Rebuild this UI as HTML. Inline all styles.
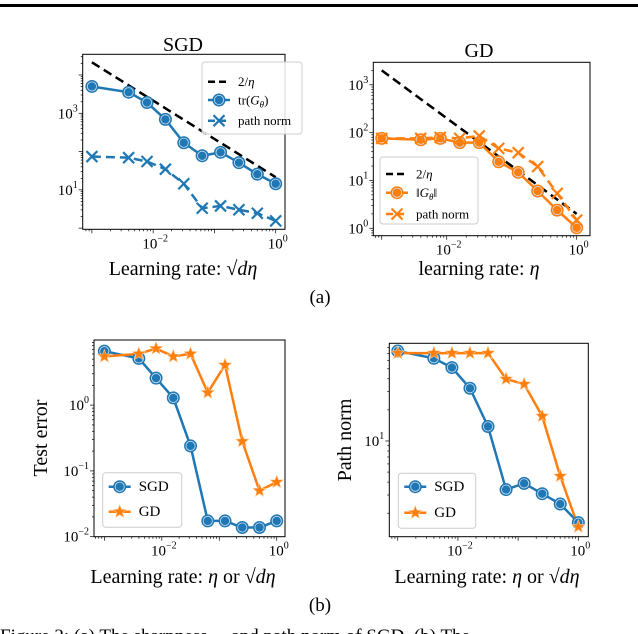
<!DOCTYPE html>
<html><head><meta charset="utf-8">
<style>
html,body{margin:0;padding:0;background:#fff;}
svg{display:block;font-family:"Liberation Serif",serif;}
</style></head>
<body>
<svg id="fig" width="638" height="634" viewBox="0 0 638 634" xmlns="http://www.w3.org/2000/svg">
<rect x="0" y="4" width="638" height="3" fill="#000"/>
<text x="320" y="303" font-size="19" text-anchor="middle">(a)</text>
<text x="320" y="611" font-size="19" text-anchor="middle">(b)</text>
<text x="0" y="642" font-size="19">Figure 2: (a) The sharpness ... and path norm of SGD. (b) The</text>
</svg>
<script>
// shared x data: log10 learning rate
const lrLog = [-3, -2.4, -2.1, -1.8, -1.5, -1.2, -0.9, -0.6, -0.3, 0];
// panel a1 (SGD)
const sgdTrG = [3.70, 3.55, 3.28, 2.84, 2.23, 1.89, 1.98, 1.71, 1.41, 1.16];
const sgdPathA = [1.87, 1.84, 1.74, 1.54, 1.16, 0.52, 0.58, 0.48, 0.39, 0.19];
const sgdRefConst = 1.33; // log10 of c in c/eta
// panel a2 (GD)
const gdG = [1.88, 1.85, 1.88, 1.79, 1.79, 1.39, 1.17, 0.78, 0.38, 0.01];
const gdPathA = [1.88, 1.88, 1.90, 1.88, 1.93, 1.67, 1.58, 1.29, 0.73, 0.17];
const gdRefConst = 0.301;
// panel b1 test error
const sgdTest = [0.82, 0.71, 0.41, 0.11, -0.62, -1.76, -1.76, -1.86, -1.86, -1.76];
const gdTest = [0.74, 0.78, 0.86, 0.74, 0.78, 0.19, 0.61, -0.55, -1.30, -1.17];
// panel b2 path norm
const sgdPathB = [1.87, 1.80, 1.71, 1.51, 1.14, 0.53, 0.59, 0.49, 0.39, 0.21];
const gdPathB = [1.85, 1.85, 1.85, 1.85, 1.85, 1.60, 1.55, 1.24, 0.66, 0.17];
const xTickLabels = ["-2", "0"];

const NS = "http://www.w3.org/2000/svg";
const svg = document.getElementById('fig');
const BLUE = "#1f77b4", ORANGE = "#ff7f0e";
function mk(tag, attrs, parent){const e=document.createElementNS(NS,tag);for(const k in attrs)e.setAttribute(k,attrs[k]);(parent||svg).appendChild(e);return e;}

function panel(p){
  const g = mk('g',{});
  
  
  const sx = v => p.l + (v - p.x0)/(p.x1 - p.x0)*(p.r - p.l);
  const sy = v => p.b - (v - p.y0)/(p.y1 - p.y0)*(p.b - p.t);
  const clipId = 'c'+p.name;
  const cp = mk('clipPath',{id:clipId},g); mk('rect',{x:p.l,y:p.t,width:p.r-p.l,height:p.b-p.t},cp);
  for(let d=Math.floor(p.y0); d<=Math.ceil(p.y1); d++){
    for(let m=1;m<10;m++){
      const v=d+Math.log10(m); if(v<p.y0||v>p.y1) continue;
      const y=sy(v); const len = m===1?4:2;
      const t=mk('line',{x1:p.l-len,x2:p.l,y1:y,y2:y,stroke:'#000','stroke-width':0.7},g);
      
      
    }
  }
  for(let d=Math.floor(p.x0); d<=Math.ceil(p.x1); d++){
    for(let m=1;m<10;m++){
      const v=d+Math.log10(m); if(v<p.x0||v>p.x1) continue;
      const x=sx(v); const len = m===1?4:2;
      const t=mk('line',{x1:x,x2:x,y1:p.b,y2:p.b+len,stroke:'#000','stroke-width':0.7},g);
      
      
    }
  }
  xTickLabels.forEach(s=>{
    const v=+s; const t=mk('text',{x:sx(v)+2,y:p.b+19,'font-size':15,'text-anchor':'middle'},g);
    
    
    t.innerHTML='10<tspan dy="-7" font-size="10">'+(v<0?'\u2212'+(-v):v)+'</tspan>';
  });
  p.yTicks.forEach(v=>{
    const t=mk('text',{x:p.l-5,y:sy(v)+5,'font-size':15,'text-anchor':'end'},g);
    
    
    t.innerHTML='10<tspan dy="-7" font-size="10">'+(v<0?'\u2212'+(-v):v)+'</tspan>';
  });
  const plot = mk('g',{'clip-path':'url(#'+clipId+')'},g);
  p.series.forEach(s=>{
    const pts = s.xs.map((x,i)=>sx(x)+','+sy(s.ys[i])).join(' ');
    const line = mk('polyline',{points:pts,fill:'none',stroke:s.color,'stroke-width':s.w||2.5,'stroke-dasharray':s.dash||'none'},plot);
    
    
    if(s.marker) s.xs.forEach((x,i)=>{
      const m = drawMarker(s.marker, sx(x), sy(s.ys[i]), s.color, g);
      
      
    });
  });
  const fr = mk('rect',{x:p.l,y:p.t,width:p.r-p.l,height:p.b-p.t,fill:'none',stroke:'#000','stroke-width':1},g);
  
  
  const L=p.legend;
  const lg = mk('g',{},g);
  
  
  mk('rect',{x:L.x,y:L.y,width:L.w,height:L.h,rx:3,fill:'#fff','fill-opacity':0.85,stroke:'#ccc','stroke-width':1},lg);
  L.items.forEach((it,i)=>{
    const y=L.rows[i];
    const e = mk('g',{},lg);
    
    
    mk('line',{x1:L.x+6,x2:L.x+28,y1:y,y2:y,stroke:it.color,'stroke-width':2.5,'stroke-dasharray':it.dash||'none'},e);
    if(it.marker) drawMarker(it.marker,L.x+17,y,it.color,e);
    const t=mk('text',{x:L.x+36,y:y+4.5,'font-size':it.fs||13},e);
    t.innerHTML=it.label;
  });
  return {sx,sy};
}
function drawMarker(type,x,y,c,parent){
  const g=mk('g',{},parent);
  if(type==='o'){
    mk('circle',{cx:x,cy:y,r:6.5,fill:c},g);
    mk('circle',{cx:x,cy:y,r:4.6,fill:'none',stroke:'#cfe3f3','stroke-width':0.8},g);
  } else if(type==='x'){
    mk('path',{d:`M${x-5.5},${y-5.5}L${x+5.5},${y+5.5}M${x-5.5},${y+5.5}L${x+5.5},${y-5.5}`,stroke:c,'stroke-width':2.2},g);
  } else if(type==='*'){
    let d='';for(let k=0;k<10;k++){const a=-Math.PI/2+k*Math.PI/5;const r=k%2?3:7;d+=(k?'L':'M')+(x+r*Math.cos(a)).toFixed(2)+','+(y+r*Math.sin(a)).toFixed(2);}
    mk('path',{d:d+'Z',fill:c,stroke:'#ffd0a0','stroke-width':0.6},g);
  }
  return g;
}
function refLine(c){return lrLog.map(x=>c-x);}

panel({name:'sgd-sharpness-panel',l:82.7,r:285,t:54.3,b:229.3,x0:-3.15,x1:0.152,y0:-0.03,y1:4.54,yTicks:[1,3],
  series:[
    {name:'sgd-two-over-eta',xs:lrLog,ys:refLine(sgdRefConst),color:'#000',dash:'9,5',w:2.5},
    {name:'sgd-trace-g',xs:lrLog,ys:sgdTrG,color:BLUE,marker:'o'},
    {name:'sgd-path-norm',xs:lrLog,ys:sgdPathA,color:BLUE,marker:'x',dash:'9,5'}],
  legend:{x:202,y:62,w:100,h:72,rows:[81.7,100,120.7],items:[
    {label:'2/<tspan font-style="italic">η</tspan>',color:'#000',dash:'7,4'},
    {label:'tr(<tspan font-style="italic">G<tspan font-size="9" dy="3">θ</tspan></tspan><tspan dy="-3">)</tspan>',color:BLUE,marker:'o'},
    {label:'path norm',color:BLUE,marker:'x',dash:'7,4'}]}});

panel({name:'gd-sharpness-panel',l:373.3,r:590,t:62.3,b:235.7,x0:-3.13,x1:0.205,y0:-0.155,y1:3.47,yTicks:[0,1,2,3],
  series:[
    {name:'gd-two-over-eta',xs:lrLog,ys:refLine(gdRefConst),color:'#000',dash:'9,5'},
    {name:'gd-norm-g',xs:lrLog,ys:gdG,color:ORANGE,marker:'o'},
    {name:'gd-path-norm',xs:lrLog,ys:gdPathA,color:ORANGE,marker:'x',dash:'9,5'}],
  legend:{x:380,y:157,w:98,h:67,rows:[174,192.7,214],items:[
    {label:'2/<tspan font-style="italic">η</tspan>',color:'#000',dash:'7,4'},
    {label:'‖<tspan font-style="italic">G<tspan font-size="9" dy="3">θ</tspan></tspan><tspan dy="-3">‖</tspan>',color:ORANGE,marker:'o'},
    {label:'path norm',color:ORANGE,marker:'x',dash:'7,4'}]}});

panel({name:'test-error-panel',l:94,r:285,t:340,b:536.7,x0:-3.18,x1:0.144,y0:-2,y1:0.99,yTicks:[-2,-1,0],
  series:[
    {name:'sgd-test-error',xs:lrLog,ys:sgdTest,color:BLUE,marker:'o'},
    {name:'gd-test-error',xs:lrLog,ys:gdTest,color:ORANGE,marker:'*'}],
  legend:{x:102.7,y:472.7,w:79,h:54.6,rows:[486.7,511.7],items:[
    {label:'SGD',color:BLUE,marker:'o',fs:15},{label:'GD',color:ORANGE,marker:'*',fs:15}]}});

panel({name:'path-norm-panel',l:389.3,r:588.3,t:343.3,b:536.7,x0:-3.14,x1:0.166,y0:0.074,y1:1.945,yTicks:[1],
  series:[
    {name:'sgd-path-norm-b',xs:lrLog,ys:sgdPathB,color:BLUE,marker:'o'},
    {name:'gd-path-norm-b',xs:lrLog,ys:gdPathB,color:ORANGE,marker:'*'}],
  legend:{x:398.3,y:473.3,w:77.4,h:55,rows:[486.7,512.7],items:[
    {label:'SGD',color:BLUE,marker:'o',fs:15},{label:'GD',color:ORANGE,marker:'*',fs:15}]}});

function label(txt,x,y,fs,name,rot){
  const t=mk('text',{x:x,y:y,'font-size':fs,'text-anchor':'middle'});
  if(rot) t.setAttribute('transform',`rotate(-90 ${x} ${y})`);
  
  
  t.innerHTML=txt; return t;
}
label('SGD',183,51,20,'sgd-title');
label('GD',479,57,20,'gd-title');
label('Learning rate: √<tspan font-style="italic">dη</tspan>',183,275,20,'sgd-x-axis-title');
label('learning rate: <tspan font-style="italic">η</tspan>',479,275,20,'gd-x-axis-title');
label('Learning rate: <tspan font-style="italic">η</tspan> or √<tspan font-style="italic">dη</tspan>',183,583,20,'test-error-x-axis-title');
label('Learning rate: <tspan font-style="italic">η</tspan> or √<tspan font-style="italic">dη</tspan>',487,583,20,'path-norm-x-axis-title');
label('Test error',47,438,20,'test-error-y-axis-title',true);
label('Path norm',351,440,20,'path-norm-y-axis-title',true);
</script>
</body></html>
